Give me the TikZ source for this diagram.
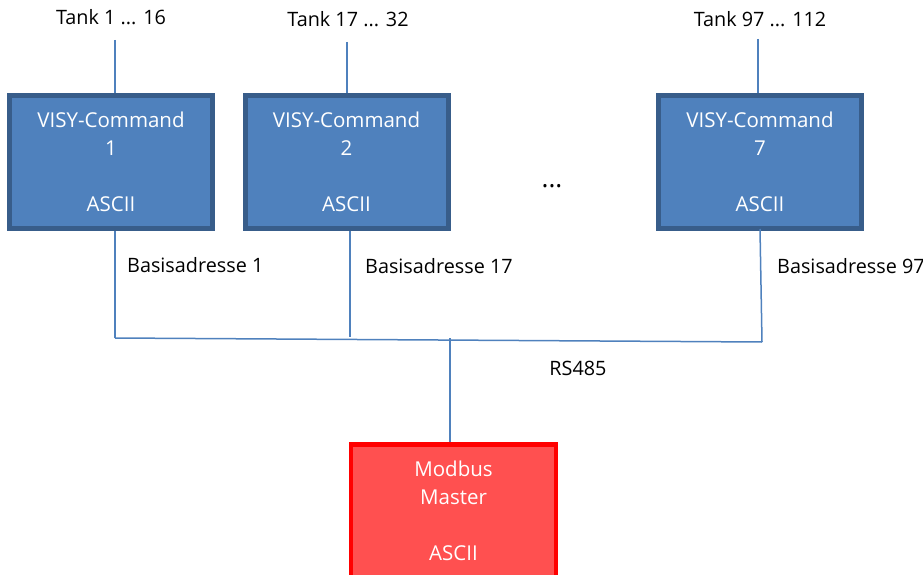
\documentclass[tikz,border=0pt]{standalone}
\usepackage{fontspec}
\setmainfont{Open Sans}
\usepackage{tikz}
\usetikzlibrary{positioning, calc}
\definecolor{unitfill}{RGB}{79, 129, 189}
\definecolor{unitdraw}{RGB}{56, 93, 138}
\definecolor{masterfill}{RGB}{255, 80, 80}
\definecolor{masterdraw}{RGB}{255, 0, 0}
\definecolor{wirecol}{RGB}{79, 129, 189}
\tikzset{
    unit/.style={rectangle, minimum width=203pt, minimum height=133pt, align=center, draw=unitdraw, line width=5pt, fill=unitfill, text=white, font=\fontsize{20.5}{28}\selectfont, inner sep=0pt},
    master/.style={unit, draw=masterdraw, fill=masterfill, line width=4.5pt, minimum width=205pt},
    wire/.style={wirecol, line width=1.5pt},
    lbl/.style={font=\fontsize{19.8}{24}\selectfont, inner sep=0pt}
}
\begin{document}
\begin{tikzpicture}[x=1pt, y=-1pt]
    \useasboundingbox (0, 0) rectangle (923, 575);

    % VISY-Command units
    \node[unit] (vc1) at (111, 162) {VISY-Command\\1\\[28pt]ASCII};
    \node[unit] (vc2) at (346.5, 162) {VISY-Command\\2\\[28pt]ASCII};
    \node[unit] (vc7) at (760, 162) {VISY-Command\\7\\[28pt]ASCII};
    \node[lbl, font=\fontsize{26}{30}\selectfont] (dots) at (552, 186) {...};

    % Modbus master
    \node[master] (mb) at (453.5, 511) {Modbus\\Master\\[28pt]ASCII};

    % Tank labels
    \node[lbl, anchor=base] (tank1) at (111, 25) {Tank 1 ... 16};
    \node[lbl, anchor=base] (tank2) at (348, 27) {Tank 17 ... 32};
    \node[lbl, anchor=base] (tank7) at (760, 27) {Tank 97 ... 112};

    % Address labels
    \node[lbl, anchor=base west] (adr1) at (127, 272) {Basisadresse 1};
    \node[lbl, anchor=base west] (adr2) at (365, 273) {Basisadresse 17};
    \node[lbl, anchor=base west] (adr7) at (777, 273) {Basisadresse 97};
    \node[lbl, anchor=base] (rs) at (578, 375) {RS485};

    % Bus points
    \coordinate (t1) at (115, 40);
    \coordinate (t2) at (347, 42);
    \coordinate (t7) at (758, 39);
    \coordinate (b1) at (115, 338);
    \coordinate (b2) at (350, 337);
    \coordinate (b7) at (762, 342);
    \coordinate (bm) at (450, 338);

    % Wires
    \draw[wire] (t1) -- (t1 |- vc1.north);
    \draw[wire] (t2) -- (t2 |- vc2.north);
    \draw[wire] (t7) -- (t7 |- vc7.north);
    \draw[wire] (b1 |- vc1.south) -- (b1);
    \draw[wire] (b2 |- vc2.south) -- (b2);
    \draw[wire] (760, 229) -- (b7);
    \draw[wire] (b1) -- (b7);
    \draw[wire] (bm) -- (bm |- mb.north);
\end{tikzpicture}
\end{document}
